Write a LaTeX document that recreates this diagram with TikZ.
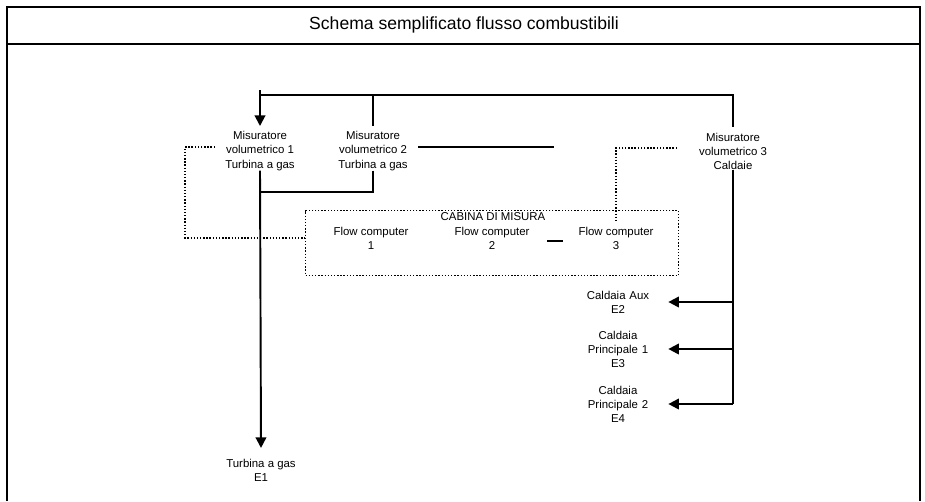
\documentclass[tikz,border=0pt]{standalone}
\usepackage{fontspec}
\setmainfont{Liberation Sans}
\usetikzlibrary{arrows.meta}
\begin{document}
\begin{tikzpicture}[x=0.02cm,y=-0.02cm]
        \tikzstyle{label}=[align=center,inner sep=0pt,font=\fontsize{6.5}{8}\selectfont]
        \tikzstyle{boiler}=[label,text width=2cm]
        \tikzstyle{flow}=[draw,line width=1.1pt]
        \tikzstyle{feed}=[flow,-{Triangle[length=6pt,width=6pt]}]
        \tikzstyle{signal}=[draw,line width=0.8pt,densely dotted]
        \useasboundingbox (0,0) rectangle (925,501);
        % cornice e titolo
        \draw[line width=1pt] (7,501) -- (7,7) -- (920,7) -- (920,501);
        \draw[line width=1pt] (7,44) -- (920,44);
        \node[font=\fontsize{10}{12}\selectfont] (title) at (464,25) {Schema semplificato flusso combustibili};
       \begin{scope}
         \coordinate (in) at (260,90);
         \coordinate (split) at (260,95);
         \node [label] (m1) at (260,151) {Misuratore\\volumetrico 1\\Turbina a gas};
         \node [label] (m2) at (373,151) {Misuratore\\volumetrico 2\\Turbina a gas};
         \node [label] (m3) at (733,151) {Misuratore\\volumetrico 3\\Caldaie};
         \node [label] (e1) at (261,470) {Turbina a gas\\E1};
         \coordinate (tee) at (260,192);

         \node [draw,line width=0.8pt,densely dotted,minimum width=7.46cm,minimum height=1.3cm] (box) at (492,243) {};
         \node [label] (cab) at (493,217) {CABINA DI MISURA};
         \node [label] (fc1) at (371,238) {Flow computer\\1};
         \node [label] (fc2) at (492,238) {Flow computer\\2};
         \node [label] (fc3) at (616,238) {Flow computer\\3};
         \coordinate (d1) at (547,241);
         \coordinate (d2) at (563,241);

         \node [boiler] (e2) at (618,302) {Caldaia Aux\\E2};
         \node [boiler] (e3) at (618,349) {Caldaia\\Principale 1\\E3};
         \node [boiler] (e4) at (618,404) {Caldaia\\Principale 2\\E4};

         \coordinate (s1) at (215,147);
         \coordinate (s1b) at (185,238);
         \coordinate (s2a) at (418,147);
         \coordinate (s2b) at (554,147);
         \coordinate (s3) at (677,148);

         % gas naturale
         \path[feed] (in) -- ([yshift=3pt]m1.north);
         \path[flow] (split) -- (split -| m3.north) -- ([yshift=3pt]m3.north);
         \path[flow] (split -| m2.north) -- ([yshift=3pt]m2.north);
         \path[feed] (m1.south) -- ([yshift=6pt]e1.north);
         \path[flow] (m2.south) |- (tee);
         \path[flow] (m3.south) -- (m3.south |- e4.east);
         \path[feed] (m3.south |- e2.east) -- (e2.east);
         \path[feed] (m3.south |- e3.east) -- (e3.east);
         \path[feed] (m3.south |- e4.east) -- (e4.east);

         % segnali
         \path[signal] (s1) -| (s1b) -- (s1b -| box.west);
         \path[signal] (s3) -| ([yshift=2pt]fc3.north);
         \path[flow] (s2a) -- (s2b);
         \path[draw,line width=0.8pt] (d1) -- (d2);
        \end{scope}
      \end{tikzpicture}
\end{document}
